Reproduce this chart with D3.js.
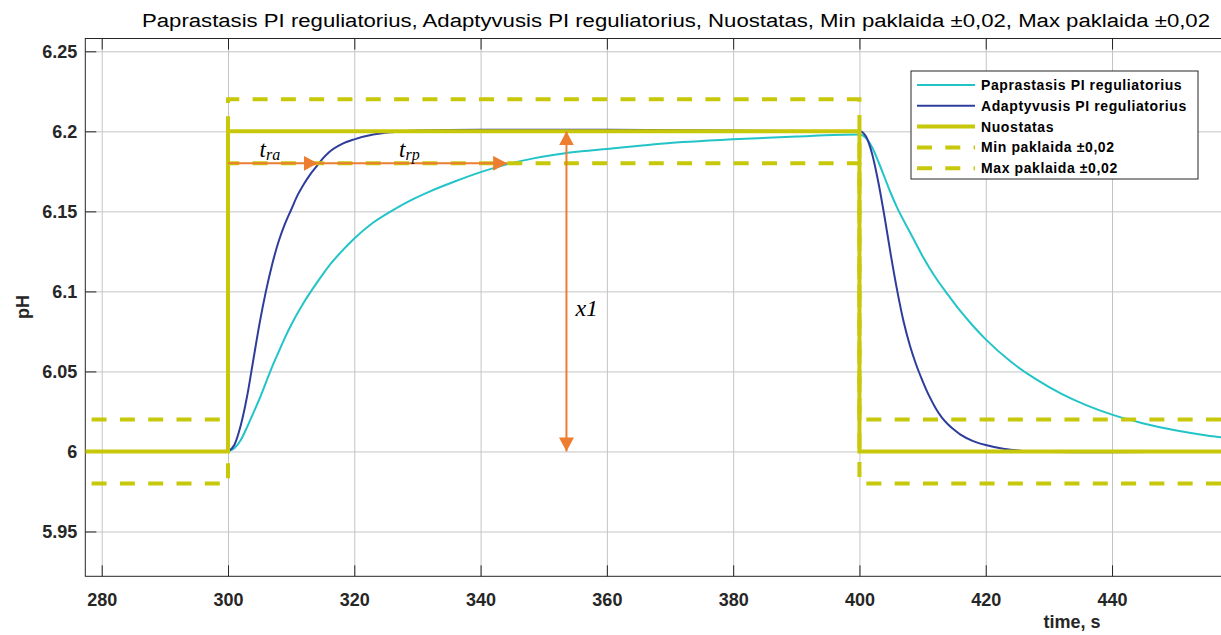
<!DOCTYPE html>
<html>
<head>
<meta charset="utf-8">
<script src="https://cdn.jsdelivr.net/npm/d3@7"></script>
<style>
  body { margin: 0; background: #fff; }
  svg { display: block; }
</style>
</head>
<body>
<svg id="Canvas" width="1221" height="635"></svg>
<script>
// response of the plain PI controller (Paprastasis)
var simpleT = [300, 301, 302, 303, 304, 305, 306, 307, 308, 309, 310, 312, 314, 316, 318, 320, 323, 326, 329, 332, 336, 340, 344, 348, 352, 356, 360, 366, 372, 380, 390, 400,
  401, 402, 403, 404, 405, 406, 408, 410, 412, 414, 416, 418, 420, 424, 428, 432, 436, 440, 445, 450, 455, 458];
var simpleY = [6.0, 6.002, 6.007, 6.015, 6.024, 6.033, 6.043, 6.053, 6.062, 6.071, 6.079, 6.093, 6.105, 6.116, 6.125, 6.133, 6.143, 6.1505, 6.157, 6.1625, 6.1688, 6.1745, 6.1792, 6.1828, 6.1855, 6.1875, 6.189, 6.1913, 6.1933, 6.195, 6.1968, 6.198,
  6.196, 6.19, 6.181, 6.171, 6.161, 6.152, 6.137, 6.122, 6.109, 6.098, 6.0876, 6.0784, 6.07, 6.056, 6.045, 6.036, 6.0288, 6.023, 6.0175, 6.0132, 6.01, 6.0085];

// response of the adaptive PI controller (Adaptyvusis)
var adaptT = [300, 301, 302, 303, 304, 305, 306, 307, 308, 309, 310, 311, 312, 313, 314, 315, 316, 318, 320, 323, 326, 330, 340, 360, 380, 400,
  401, 402, 403, 404, 405, 406, 407, 408, 409, 410, 411, 412, 413, 414, 415, 416, 418, 420, 423, 426, 430, 440, 458];
var adaptY = [6.0, 6.004, 6.016, 6.034, 6.057, 6.08, 6.1, 6.117, 6.131, 6.142, 6.151, 6.16, 6.167, 6.173, 6.178, 6.183, 6.187, 6.192, 6.195, 6.198, 6.1995, 6.2005, 6.201, 6.201, 6.2005, 6.2,
  6.197, 6.186, 6.168, 6.146, 6.122, 6.1, 6.081, 6.066, 6.054, 6.044, 6.035, 6.0275, 6.0215, 6.017, 6.0135, 6.0105, 6.0065, 6.004, 6.0015, 6.0003, 5.9996, 5.9995, 6.0];

// setpoint and tolerance band
var stepT = [277.4, 300, 300, 400, 400, 458];
var setY = [6.0, 6.0, 6.2, 6.2, 6.0, 6.0];
var minY = [5.98, 5.98, 6.18, 6.18, 5.98, 5.98];
var maxY = [6.02, 6.02, 6.22, 6.22, 6.02, 6.02];

var seriesNames = ["Paprastasis PI reguliatorius", "Adaptyvusis PI reguliatorius", "Nuostatas", "Min paklaida \u00b10,02", "Max paklaida \u00b10,02"];
var titleText = seriesNames.join(", ");

var xTicks = [280, 300, 320, 340, 360, 380, 400, 420, 440];
var yTicks = [5.95, 6.0, 6.05, 6.1, 6.15, 6.2, 6.25];

// annotation arrows: t_ra and t_rp along 6.18, x1 between 6.0 and 6.2
var riseT = [300, 314.2, 344.2];
var riseLevel = 6.18;
var x1T = 353.6;
var x1Range = [6.0, 6.2];

var cyan = "#22c4c8", navy = "#2e3d9c", olive = "#c8c80a", orange = "#ed7d31";

function drawChart() {
  var svg = d3.select("#Canvas");
  var pL = 85.3, pR = 1221.9, pT = 38.5, pB = 576.3;

  var x = d3.scaleLinear().domain([277.4, 457.4]).range([pL, pR]);
  var y = d3.scaleLinear().domain([5.922, 6.258]).range([pB, pT]);

  var defs = svg.append("defs");
  defs.append("clipPath").attr("id", "plotClip")
    .append("rect")
    .attr("x", pL).attr("y", pT)
    .attr("width", pR - pL).attr("height", pB - pT);

  // grid
  svg.append("g")
    .attr("transform", "translate(0," + pB + ")")
    .call(d3.axisBottom(x).tickValues(xTicks).tickSize(-(pB - pT)).tickFormat(""))
    .call(g => g.select(".domain").remove())
    .call(g => g.selectAll("line").attr("stroke", "#c4c4c4"));

  svg.append("g")
    .attr("transform", "translate(" + pL + ",0)")
    .call(d3.axisLeft(y).tickValues(yTicks).tickSize(-(pR - pL)).tickFormat(""))
    .call(g => g.select(".domain").remove())
    .call(g => g.selectAll("line").attr("stroke", "#c4c4c4"));

  // box
  svg.append("rect")
    .attr("x", pL).attr("y", pT)
    .attr("width", pR - pL + 4).attr("height", pB - pT)
    .attr("fill", "none").attr("stroke", "#262626").attr("stroke-width", 1);

  // axes with inner ticks
  var fmt = v => String(+v.toFixed(2));

  var xAxis = svg.append("g")
    .attr("transform", "translate(0," + pB + ")")
    .call(d3.axisBottom(x).tickValues(xTicks).tickSize(-11).tickPadding(17).tickFormat(fmt));
  var yAxis = svg.append("g")
    .attr("transform", "translate(" + pL + ",0)")
    .call(d3.axisLeft(y).tickValues(yTicks).tickSize(-11).tickPadding(8).tickFormat(fmt));
  svg.append("g")
    .attr("transform", "translate(0," + pT + ")")
    .call(d3.axisTop(x).tickValues(xTicks).tickSize(-11).tickFormat(""))
    .call(g => g.select(".domain").remove())
    .call(g => g.selectAll("line").attr("stroke", "#262626"));

  [xAxis, yAxis].forEach(function (g) {
    g.select(".domain").remove();
    g.selectAll("line").attr("stroke", "#262626");
    g.selectAll("text")
      .attr("fill", "#262626")
      .style("font-family", "'Liberation Sans', Arial, sans-serif")
      .style("font-size", "18px")
      .style("font-weight", "bold");
  });

  // curves
  var plot = svg.append("g").attr("clip-path", "url(#plotClip)");

  var pts = (ts, vs) => ts.map((t, i) => [t, vs[i]]);
  var line = d3.line().x(d => x(d[0])).y(d => y(d[1]));
  var smooth = d3.line().x(d => x(d[0])).y(d => y(d[1])).curve(d3.curveMonotoneX);

  plot.append("path")
    .attr("d", smooth(pts(simpleT, simpleY)))
    .attr("fill", "none").attr("stroke", cyan).attr("stroke-width", 2);

  plot.append("path")
    .attr("d", smooth(pts(adaptT, adaptY)))
    .attr("fill", "none").attr("stroke", navy).attr("stroke-width", 2);

  plot.append("path")
    .attr("d", line(pts(stepT, setY)))
    .attr("fill", "none").attr("stroke", olive).attr("stroke-width", 4);

  [minY, maxY].forEach(function (vals) {
    plot.append("path")
      .attr("d", line(pts(stepT, vals)))
      .attr("fill", "none").attr("stroke", olive).attr("stroke-width", 4)
      .attr("stroke-dasharray", "15,13.3")
      .attr("stroke-dashoffset", 22);
  });

  // arrows
  defs.append("marker")
    .attr("id", "head")
    .attr("markerUnits", "userSpaceOnUse")
    .attr("markerWidth", 14).attr("markerHeight", 15)
    .attr("refX", 14).attr("refY", 7.5)
    .attr("orient", "auto-start-reverse")
    .append("path")
    .attr("d", "M0,0 L14,7.5 L0,15 Z")
    .attr("fill", orange);

  var serif = "'Liberation Serif', 'Times New Roman', serif";
  var subs = ["ra", "rp"];

  for (let i = 0; i < riseT.length - 1; i++) {
    plot.append("line")
      .attr("x1", x(riseT[i])).attr("x2", x(riseT[i + 1]))
      .attr("y1", y(riseLevel)).attr("y2", y(riseLevel))
      .attr("stroke", orange).attr("stroke-width", 2)
      .attr("marker-end", "url(#head)");

    var lbl = svg.append("text")
      .attr("x", x((riseT[i] + riseT[i + 1]) / 2) - 3)
      .attr("y", y(riseLevel) - 6)
      .attr("text-anchor", "middle")
      .style("font-family", serif)
      .style("font-style", "italic")
      .style("font-size", "23px");
    lbl.append("tspan").text("t");
    lbl.append("tspan").attr("dy", 3).style("font-size", "16px").text(subs[i]);
  }

  plot.append("line")
    .attr("x1", x(x1T)).attr("x2", x(x1T))
    .attr("y1", y(x1Range[0])).attr("y2", y(x1Range[1]))
    .attr("stroke", orange).attr("stroke-width", 2)
    .attr("marker-start", "url(#head)")
    .attr("marker-end", "url(#head)");

  svg.append("text")
    .attr("x", x(x1T) + 9)
    .attr("y", y((x1Range[0] + x1Range[1]) / 2) + 25)
    .style("font-family", serif)
    .style("font-style", "italic")
    .style("font-size", "24px")
    .text("x1");

  // title and axis labels
  svg.append("text")
    .attr("x", 676).attr("y", 27)
    .attr("text-anchor", "middle")
    .attr("textLength", 1068)
    .attr("lengthAdjust", "spacingAndGlyphs")
    .style("font-family", "'Liberation Sans Narrow', 'Liberation Sans', Arial, sans-serif")
    .style("font-size", "18px")
    .attr("fill", "#000")
    .text(titleText);

  svg.append("text")
    .attr("x", 1072).attr("y", 628)
    .attr("text-anchor", "middle")
    .style("font-family", "'Liberation Sans', Arial, sans-serif")
    .style("font-size", "18px").style("font-weight", "bold")
    .attr("fill", "#262626")
    .text("time, s");

  svg.append("text")
    .attr("transform", "translate(29,307) rotate(-90)")
    .attr("text-anchor", "middle")
    .style("font-family", "'Liberation Sans', Arial, sans-serif")
    .style("font-size", "18px").style("font-weight", "bold")
    .attr("fill", "#262626")
    .text("pH");

  // legend
  var lgX = 911, lgY = 71, lgW = 287, lgH = 108, rowH = 20.8;
  var legend = svg.append("g");
  legend.append("rect")
    .attr("x", lgX).attr("y", lgY).attr("width", lgW).attr("height", lgH)
    .attr("fill", "#fff").attr("stroke", "#262626").attr("stroke-width", 1);

  var legendStyles = [
    { color: cyan, width: 2, dash: null },
    { color: navy, width: 2, dash: null },
    { color: olive, width: 4, dash: null },
    { color: olive, width: 4, dash: "15,13.3" },
    { color: olive, width: 4, dash: "15,13.3" }
  ];

  seriesNames.forEach(function (name, i) {
    var ry = lgY + 14 + i * rowH;
    legend.append("line")
      .attr("x1", lgX + 6).attr("x2", lgX + 64)
      .attr("y1", ry).attr("y2", ry)
      .attr("stroke", legendStyles[i].color)
      .attr("stroke-width", legendStyles[i].width)
      .attr("stroke-dasharray", legendStyles[i].dash);
    legend.append("text")
      .attr("x", lgX + 70).attr("y", ry + 5)
      .style("font-family", "'Liberation Sans', Arial, sans-serif")
      .style("font-size", "14px").style("font-weight", "bold")
      .style("letter-spacing", "0.6px")
      .attr("fill", "#000")
      .text(name);
  });
}

drawChart();
</script>
</body>
</html>
